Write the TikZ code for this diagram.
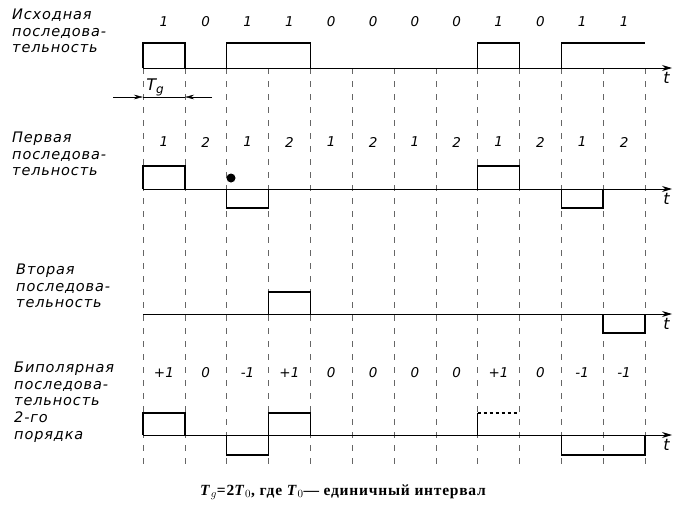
\documentclass[tikz,border=0pt]{standalone}
\usepackage{fontspec}
\usetikzlibrary{arrows.meta}
\setmainfont{DejaVu Sans}
\newfontfamily\capfont{Liberation Serif}[LetterSpace=5]
\newcommand\lblfont{\fontsize{14.5}{16.6}\selectfont\itshape\addfontfeature{LetterSpace=6}}
\newcommand\digfont{\fontsize{13.5}{14}\selectfont\itshape}
\tikzset{
    pulse/.style={line width=1.6pt},
    axis/.style={line width=0.9pt, -{Stealth[length=10pt,width=6pt]}},
    gridline/.style={dash pattern=on 6pt off 7pt, black!60, line width=0.45pt},
    seqlabel/.style={anchor=north west, align=left, font=\lblfont, inner sep=0pt},
    digit/.style={font=\digfont},
    tlabel/.style={anchor=north east, inner sep=2pt, yshift=-2pt, font=\fontsize{16}{16}\selectfont\itshape}
}
\begin{document}
\begin{tikzpicture}[x=1pt,y=-1pt]
    \useasboundingbox (0,0) rectangle (674,506);
    % interval boundaries
\foreach \i in {0,...,12}
    \draw[gridline] ({143+41.83*\i},68) -- ({143+41.83*\i},468);

    % sequence names
    \node[seqlabel] (src) at (12,9) {Исходная\\последова-\\тельность};
    \node[seqlabel] (first) at (12,132) {Первая\\последова-\\тельность};
    \node[seqlabel] (second) at (16,264) {Вторая\\последова-\\тельность};
    \node[seqlabel] (bipol) at (14,362) {Биполярная\\последова-\\тельность\\2-го\\порядка};

    % time axes
    \draw[axis] (143,68) -- (672,68) node[tlabel] {t};
    \draw[axis] (143,189) -- (672,189) node[tlabel] {t};
    \draw[axis] (143,314) -- (672,314) node[tlabel] {t};
    \draw[axis] (143,435) -- (672,435) node[tlabel] {t};

    % source sequence
\foreach \v [count=\i from 0] in {1,0,1,1,0,0,0,0,1,0,1,1}
    \node[digit] (s\i) at ({143+41.83*(\i+0.5)},22) {\v};
\foreach \a/\b in {0/1,2/4,8/9}
    \draw[pulse] ({143+41.83*\a},68) |- ({143+41.83*\b},43) -- ({143+41.83*\b},68);
    \draw[pulse] ({143+41.83*10},68) |- ({143+41.83*12},43);

    % T_g
    \coordinate (tga) at (113,97);
    \coordinate (tgb) at (143,97);
    \coordinate (tgc) at (212,97);
    \coordinate (tgd) at (185,97);
    \draw[-{Stealth[length=9pt,width=4.5pt]}] (tga) -- (tgb);
    \draw[-{Stealth[length=9pt,width=4.5pt]}] (tgc) -- (tgd);
    \draw (tgb) -- (tgd);
    \node[font=\fontsize{16}{16}\selectfont\itshape] (tg) at (155,87) {T\raisebox{-3pt}{\fontsize{12}{12}\selectfont g}};

    % first sequence
\foreach \v [count=\i from 0] in {1,2,1,2,1,2,1,2,1,2,1,2}
    \node[digit] (f\i) at ({143+41.83*(\i+0.5)},142) {\v};
\foreach \a/\b in {0/1,8/9}
    \draw[pulse] ({143+41.83*\a},189) |- ({143+41.83*\b},166) -- ({143+41.83*\b},189);
\foreach \a/\b in {2/3,10/11}
    \draw[pulse] ({143+41.83*\a},189) |- ({143+41.83*\b},208) -- ({143+41.83*\b},189);
    \node [fill, circle, inner sep=0pt, minimum size=9pt] (dot) at (231,178) {};

    % second sequence
    \draw[pulse] ({143+41.83*3},314) |- ({143+41.83*4},292) -- ({143+41.83*4},314);
    \draw[pulse] ({143+41.83*11},314) |- ({143+41.83*12},333) -- ({143+41.83*12},314);

    % bipolar sequence
\foreach \v [count=\i from 0] in {+1,0,-1,+1,0,0,0,0,+1,0,-1,-1}
    \node[digit] (b\i) at ({143+41.83*(\i+0.5)},373) {\v};
\foreach \a/\b in {0/1,3/4}
    \draw[pulse] ({143+41.83*\a},435) |- ({143+41.83*\b},413) -- ({143+41.83*\b},435);
\foreach \a/\b in {2/3,10/12}
    \draw[pulse] ({143+41.83*\a},435) |- ({143+41.83*\b},455) -- ({143+41.83*\b},435);
    \draw[pulse] ({143+41.83*8},435) -- ({143+41.83*8},413);
    \draw[pulse, dashed] ({143+41.83*8},413) -- ({143+41.83*9},413);

    \node[font=\capfont\bfseries\fontsize{15.5}{17}\selectfont] (cap) at (343,492)
        {\textit{T}$_g$=2\textit{T}$_0$, где \textit{T}$_0$— единичный интервал};
\end{tikzpicture}
\end{document}
